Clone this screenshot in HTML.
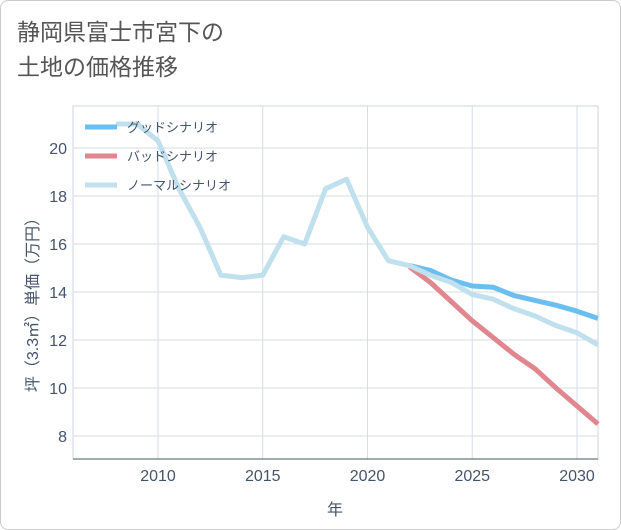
<!DOCTYPE html>
<html><head><meta charset="utf-8"><style>
body{margin:0;background:#fff}
#w{width:619px;height:528px;border:1px solid #ccc;border-radius:8px;position:relative;overflow:hidden;font-family:"Liberation Sans","Noto Sans CJK JP",sans-serif}
#t{position:absolute;left:16px;top:14px;font-size:23px;line-height:35px;color:#555}
</style></head><body>
<div id="w">
<div id="t">静岡県富士市宮下の<br>土地の価格推移</div>
<svg id="s" width="621" height="530" style="position:absolute;left:0;top:0"></svg>
</div>
<script>
const years=[2008,2009,2010,2011,2012,2013,2014,2015,2016,2017,2018,2019,2020,2021,2022,2023,2024,2025,2026,2027,2028,2029,2030,2031];
const normal=[21.0,21.0,20.3,18.3,16.7,14.7,14.6,14.7,16.3,16.0,18.3,18.7,16.7,15.3,15.1,14.7,14.4,13.9,13.7,13.3,13.0,12.6,12.3,11.8];
const fyears=[2022,2023,2024,2025,2026,2027,2028,2029,2030,2031];
const good=[15.1,14.9,14.5,14.25,14.2,13.85,13.65,13.45,13.2,12.9];
const bad=[15.05,14.4,13.6,12.8,12.1,11.4,10.8,10.0,9.25,8.5];
const xTicks=[2010,2015,2020,2025,2030];
const yTicks=[8,10,12,14,16,18,20];
const L=72,R=597,T=105,B=458;
const x=v=>157+(v-2010)*20.95;
const y=v=>147+(20-v)*24;
const s=document.getElementById('s');const NS='http://www.w3.org/2000/svg';
function mk(tag,a,name,txt){const e=document.createElementNS(NS,tag);for(const k in a)e.setAttribute(k,a[k]);


if(txt!=null)e.textContent=txt;s.appendChild(e);return e;}
mk('rect',{x:L,y:T,width:R-L,height:B-T,fill:'none',stroke:'#ccd6e0'},'plot-area');
xTicks.forEach(v=>{mk('line',{x1:x(v),x2:x(v),y1:T,y2:B,stroke:'#d5dde6'},'x-gridline');
mk('text',{x:x(v),y:480,'text-anchor':'middle','font-size':16,fill:'#44546a'},'x-tick-label',String(v));});
yTicks.forEach(v=>{mk('line',{x1:L,x2:R,y1:y(v),y2:y(v),stroke:'#d5dde6'},'y-gridline');
mk('text',{x:66,y:y(v)+6,'text-anchor':'end','font-size':16,fill:'#44546a'},'y-tick-label',String(v));});
mk('line',{x1:L,x2:R,y1:B,y2:B,stroke:'#44546a'},'x-axis-line');
mk('text',{x:334,y:514,'text-anchor':'middle','font-size':16,fill:'#44546a'},'x-axis-title','年');
mk('text',{x:0,y:0,'text-anchor':'middle','font-size':16,fill:'#44546a',transform:'translate(37,300) rotate(-90)'},'y-axis-title','坪（3.3㎡）単価（万円）');
function line(xs,vs,c,n){mk('path',{d:xs.map((v,i)=>(i?'L':'M')+x(v)+','+y(vs[i])).join(''),fill:'none',stroke:c,'stroke-width':5,'stroke-linejoin':'round'},n);}
line(fyears,good,'#6bbff0','good-scenario-line');
line(fyears,bad,'#e0868e','bad-scenario-line');
line(years,normal,'#bfe0ec','normal-scenario-line');
[['グッドシナリオ','#6bbff0'],['バッドシナリオ','#e0868e'],['ノーマルシナリオ','#bfe0ec']].forEach((d,i)=>{
mk('line',{x1:84,x2:116,y1:126+i*29,y2:126+i*29,stroke:d[1],'stroke-width':5},'legend-swatch');
mk('text',{x:126,y:131+i*29,'font-size':13,fill:'#44546a'},'legend-entry',d[0]);});
</script>
</body></html>
